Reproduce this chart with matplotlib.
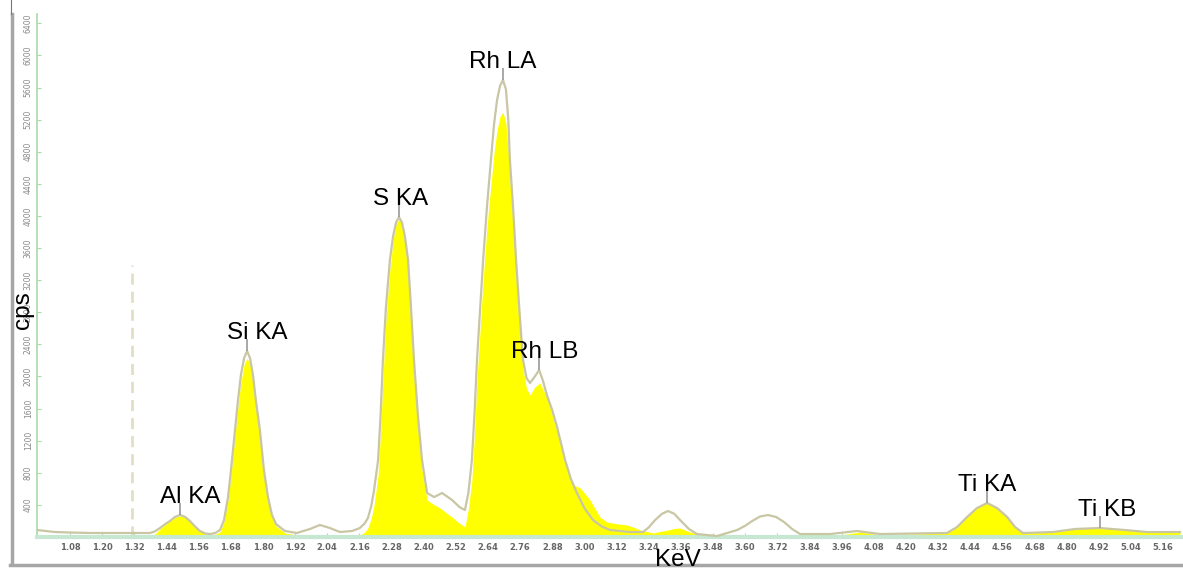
import matplotlib
matplotlib.use('Agg')
import matplotlib.pyplot as plt
from matplotlib.lines import Line2D

# comparison spectrum (thin outline)
ref_kev = [0.957, 1.024, 1.080, 1.155, 1.311, 1.379, 1.397, 1.416, 1.435, 1.453,
           1.472, 1.491, 1.510, 1.528, 1.547, 1.565, 1.584, 1.603, 1.622, 1.640,
           1.655, 1.670, 1.681, 1.696, 1.707, 1.718, 1.730, 1.741, 1.752, 1.763,
           1.774, 1.789, 1.804, 1.819, 1.834, 1.849, 1.882, 1.927, 1.976, 2.013,
           2.050, 2.088, 2.133, 2.162, 2.180, 2.192, 2.204, 2.215, 2.230, 2.239,
           2.248, 2.259, 2.274, 2.286, 2.297, 2.308, 2.319, 2.330, 2.342, 2.353,
           2.364, 2.379, 2.394, 2.413, 2.439, 2.469, 2.506, 2.535, 2.554, 2.567,
           2.580, 2.590, 2.599, 2.611, 2.622, 2.636, 2.651, 2.663, 2.674, 2.685,
           2.696, 2.707, 2.716, 2.722, 2.734, 2.745, 2.758, 2.771, 2.784, 2.797,
           2.815, 2.831, 2.845, 2.860, 2.880, 2.898, 2.928, 2.950, 2.972, 3.000,
           3.032, 3.065, 3.096, 3.170, 3.219, 3.240, 3.264, 3.290, 3.312, 3.335,
           3.357, 3.390, 3.420, 3.495, 3.570, 3.600, 3.626, 3.655, 3.685, 3.715,
           3.745, 3.775, 3.805, 3.917, 4.017, 4.103, 4.353, 4.391, 4.428, 4.465,
           4.503, 4.540, 4.578, 4.607, 4.637, 4.749, 4.831, 4.924, 5.017, 5.100,
           5.223]
ref_cps = [87, 62, 56, 50, 50, 50, 70, 112, 160, 199,
           250, 274, 250, 199, 130, 75, 45, 37, 50, 87,
           212, 498, 835, 1333, 1700, 2019, 2230, 2318, 2230, 2019,
           1700, 1333, 835, 498, 274, 162, 75, 50, 100, 150,
           112, 62, 75, 112, 170, 237, 380, 586, 959, 1500,
           2205, 2850, 3451, 3750, 3920, 3987, 3920, 3750, 3451, 2850,
           2205, 1500, 959, 548, 498, 548, 461, 370, 336, 550,
           959, 1550, 2205, 2850, 3451, 4100, 4697, 5150, 5445, 5620,
           5694, 5580, 5200, 4697, 4100, 3451, 2800, 2205, 1980, 1919,
           2000, 2081, 1950, 1769, 1580, 1371, 959, 720, 548, 360,
           212, 130, 87, 62, 62, 120, 212, 290, 324, 290,
           212, 100, 37, 12, 87, 140, 199, 255, 274, 250,
           187, 100, 37, 37, 75, 37, 50, 125, 249, 361,
           424, 361, 249, 125, 50, 62, 100, 112, 87, 62,
           62]

# measured spectrum (yellow fill)
smp_kev = [0.957, 1.379, 1.397, 1.416, 1.435, 1.453, 1.472, 1.491, 1.510, 1.528,
           1.547, 1.565, 1.584, 1.603, 1.622, 1.640, 1.655, 1.670, 1.681, 1.696,
           1.707, 1.718, 1.730, 1.741, 1.752, 1.763, 1.774, 1.789, 1.804, 1.819,
           1.834, 1.849, 1.882, 1.927, 2.088, 2.162, 2.180, 2.192, 2.204, 2.215,
           2.230, 2.239, 2.248, 2.259, 2.274, 2.286, 2.297, 2.308, 2.319, 2.330,
           2.342, 2.353, 2.364, 2.379, 2.394, 2.413, 2.440, 2.461, 2.485, 2.506,
           2.530, 2.554, 2.567, 2.580, 2.590, 2.599, 2.611, 2.622, 2.636, 2.651,
           2.663, 2.674, 2.685, 2.696, 2.707, 2.716, 2.722, 2.734, 2.745, 2.758,
           2.771, 2.784, 2.797, 2.815, 2.834, 2.848, 2.864, 2.885, 2.909, 2.928,
           2.947, 2.965, 2.984, 3.002, 3.021, 3.040, 3.058, 3.084, 3.120, 3.159,
           3.185, 3.208, 3.256, 3.285, 3.312, 3.335, 3.357, 3.395, 3.431, 3.954,
           4.029, 4.103, 4.353, 4.391, 4.428, 4.465, 4.503, 4.540, 4.578, 4.607,
           4.637, 4.749, 4.831, 4.924, 5.017, 5.100, 5.223]
smp_cps = [12, 12, 37, 100, 155, 199, 245, 262, 245, 199,
           130, 75, 40, 25, 35, 62, 190, 461, 780, 1271,
           1620, 1931, 2150, 2230, 2150, 1931, 1620, 1271, 780, 461,
           250, 137, 50, 25, 25, 25, 60, 112, 230, 399,
           773, 1300, 1956, 2700, 3327, 3700, 3900, 3962, 3900, 3720,
           3427, 2850, 2205, 1450, 835, 461, 400, 361, 300, 249,
           180, 125, 350, 710, 1300, 1956, 2600, 3202, 3850, 4386,
           4800, 5071, 5240, 5296, 5150, 4800, 4448, 3900, 3327, 2700,
           2081, 1850, 1769, 1870, 1919, 1820, 1707, 1450, 1209, 950,
           710, 640, 611, 540, 461, 350, 249, 187, 165, 150,
           120, 87, 50, 70, 87, 105, 112, 60, 25, 25,
           62, 25, 50, 125, 249, 361, 424, 361, 249, 125,
           50, 62, 100, 125, 100, 75, 75]

peak_names = ['Al KA', 'Si KA', 'S KA', 'Rh LA', 'Rh LB', 'Ti KA', 'Ti KB']
peak_kev = [1.491, 1.741, 2.308, 2.696, 2.831, 4.503, 4.924]
peak_cps = [274, 2318, 3987, 5694, 2081, 424, 112]
label_kev = [1.528, 1.778, 2.312, 2.696, 2.853, 4.503, 4.951]

x_tick_labels = ['1.08', '1.20', '1.32', '1.44', '1.56', '1.68', '1.80', '1.92',
                 '2.04', '2.16', '2.28', '2.40', '2.52', '2.64', '2.76', '2.88',
                 '3.00', '3.12', '3.24', '3.36', '3.48', '3.60', '3.72', '3.84',
                 '3.96', '4.08', '4.20', '4.32', '4.44', '4.56', '4.68', '4.80',
                 '4.92', '5.04', '5.16']
y_ticks = [400, 800, 1200, 1600, 2000, 2400, 2800, 3200, 3600, 4000,
           4400, 4800, 5200, 5600, 6000, 6400]
marker_kev = 1.311
marker_top = 3390

fig = plt.figure(figsize=(11.83, 5.69), dpi=100)
ax = fig.add_axes([37 / 1183, 32 / 569, 1 - 37 / 1183, (537 - 14) / 569])

ax.fill_between(smp_kev, smp_cps, 0, color='#ffff00', lw=0, zorder=2)
ax.plot(ref_kev, ref_cps, color='#c9c6a4', lw=1.6, zorder=3)
ax.vlines(marker_kev, 0, marker_top, colors='#e2dfc4', linestyles=(0, (4, 2.5)), lw=2, zorder=1)

for name, kx, ky, lx in zip(peak_names, peak_kev, peak_cps, label_kev):
    ax.vlines(kx, ky, ky + 150, colors='#999999', lw=1.2, zorder=4)
    ax.text(lx, ky + 150, name, ha='center', va='baseline', fontsize=17.5,
            family='Liberation Sans', color='black', zorder=5)

ax.set_xlim(0.957, 5.234)
ax.set_ylim(0, 6517)

xt = [float(s) for s in x_tick_labels]
ax.set_xticks(xt)
ax.set_xticklabels(x_tick_labels, fontsize=6, color='#666666', fontweight='bold')
ax.set_yticks(y_ticks)
ax.set_yticklabels([str(v) for v in y_ticks], fontsize=5.5, color='#888888',
                   rotation=90, va='center')
ax.tick_params(axis='x', direction='in', length=3, color='#a8dca8', pad=4)
ax.tick_params(axis='y', direction='in', length=3, color='#a8dca8', pad=3)

for s in ['top', 'right']:
    ax.spines[s].set_visible(False)
ax.spines['left'].set_color('#a8dca8')
ax.spines['left'].set_linewidth(1.2)
ax.spines['bottom'].set_color('#c6e8d2')
ax.spines['bottom'].set_linewidth(3)
ax.set_facecolor('white')

fig.text(23 / 1183, 1 - 310 / 569, 'cps', rotation=90, ha='center', va='center',
         fontsize=17.5, family='Liberation Sans')
fig.text(678 / 1183, 3 / 569, 'KeV', ha='center', va='baseline',
         fontsize=17.5, family='Liberation Sans')

# window frame bits
fig.add_artist(Line2D([11.5 / 1183, 11.5 / 1183], [1 - 14 / 569, 1 - 564 / 569],
                      color='#a6a6a6', lw=2.5))
fig.add_artist(Line2D([10.5 / 1183, 10.5 / 1183], [1.0, 1 - 14 / 569],
                      color='#777777', lw=0.8))
fig.add_artist(Line2D([10 / 1183, 1.0], [1 - 564.5 / 569, 1 - 564.5 / 569],
                      color='#a6a6a6', lw=2.5))

fig.savefig('out.png', dpi=100)
